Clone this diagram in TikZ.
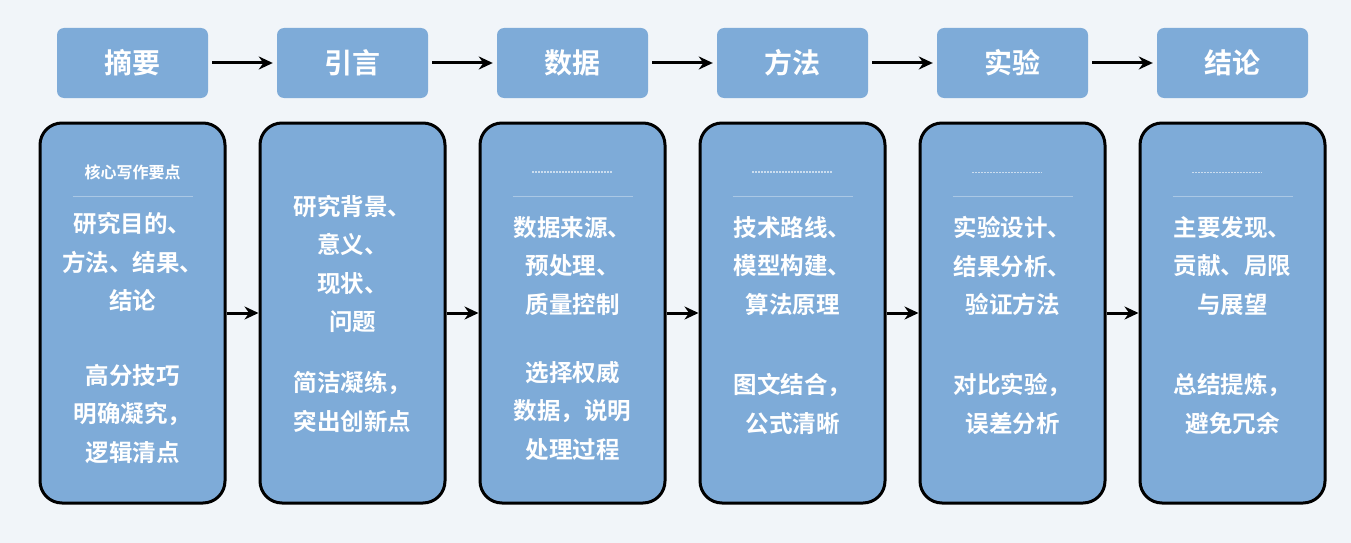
\documentclass[tikz,border=0pt]{standalone}
\usepackage{fontspec}
\setmainfont{Noto Sans CJK SC}[BoldFont={* Bold}]
\usetikzlibrary{arrows.meta}
\definecolor{boxblue}{HTML}{7EABD8}
\definecolor{bg}{HTML}{F1F5F9}
\begin{document}
\begin{tikzpicture}[x=1pt,y=-1pt,
  top/.style={fill=boxblue,rounded corners=7pt,minimum width=151pt,minimum height=70pt,inner sep=0pt,text=white,font=\bfseries\fontsize{28}{30}\selectfont},
  card/.style={fill=boxblue,draw=black,line width=3pt,rounded corners=22pt,minimum width=185pt,minimum height=380pt,inner sep=0pt},
  txt/.style={text=white,font=\bfseries\fontsize{23.5}{38.5}\selectfont,align=center},
  small/.style={text=white,font=\bfseries\fontsize{16}{18}\selectfont},
  sep/.style={white,opacity=0.35,line width=1pt},
  arr/.style={-{Stealth[length=14pt,width=13pt]},line width=3pt,black}]
\fill[bg] (0,0) rectangle (1351,543);
\useasboundingbox (0,0) rectangle (1351,543);
\foreach \i/\t in {0/摘要,1/引言,2/数据,3/方法,4/实验,5/结论}{
  \node[top] (t\i) at (132.5+220*\i,63) {\t};
  \node[card] (c\i) at (132.5+220*\i,313) {};
}
\foreach \i in {0,2,3,4,5}{
  \draw[sep] (132.5+220*\i-60,196) -- (132.5+220*\i+60,196);
}
\foreach \a/\b in {0/1,1/2,2/3,3/4,4/5}{
  \draw[arr] ([xshift=4pt]t\a.east) -- ([xshift=-4pt]t\b.west);
  \draw[arr] (c\a.east) -- (c\b.west);
}
\node[small] (h0) at (132.5,172) {核心写作要点};
\draw[white,opacity=0.6,line width=1.5pt,dash pattern=on 2pt off 1pt] (532,172) -- (612,172);
\draw[white,opacity=0.6,line width=1.5pt,dash pattern=on 2pt off 1pt] (752,172) -- (832,172);
\draw[white,opacity=0.6,line width=1pt,dash pattern=on 2pt off 1pt] (972,172) -- (1042,172);
\draw[white,opacity=0.6,line width=1pt,dash pattern=on 2pt off 1pt] (1192,172) -- (1262,172);
\node[txt] (a0) at (132.5,262) {研究目的、\\方法、结果、\\结论};
\node[txt] (b0) at (132.5,414) {高分技巧\\明确凝究，\\逻辑清点};
\node[txt] (a1) at (352.5,264) {研究背景、\\意义、\\现状、\\问题};
\node[txt] (b1) at (352.5,402) {简洁凝练，\\突出创新点};
\node[txt] (a2) at (572.5,266) {数据来源、\\预处理、\\质量控制};
\node[txt] (b2) at (572.5,411) {选择权威\\数据，说明\\处理过程};
\node[txt] (a3) at (792.5,266) {技术路线、\\模型构建、\\算法原理};
\node[txt] (b3) at (792.5,404) {图文结合，\\公式清晰};
\node[txt] (a4) at (1012.5,266) {实验设计、\\结果分析、\\验证方法};
\node[txt] (b4) at (1012.5,404) {对比实验，\\误差分析};
\node[txt] (a5) at (1232.5,266) {主要发现、\\贡献、局限\\与展望};
\node[txt] (b5) at (1232.5,404) {总结提炼，\\避免冗余};
\end{tikzpicture}
\end{document}
